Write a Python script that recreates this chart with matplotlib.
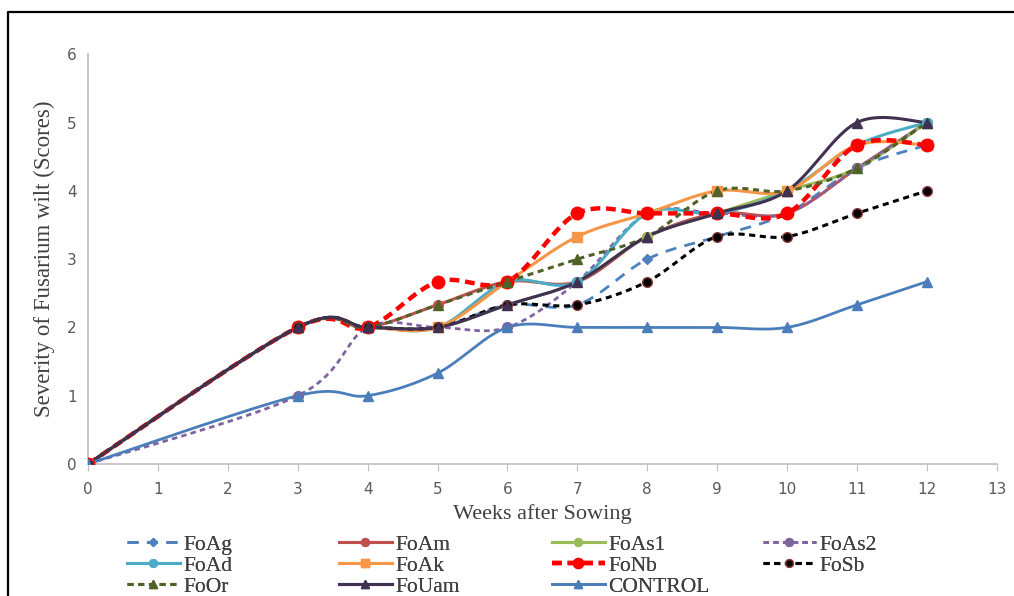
import numpy as np
import matplotlib
matplotlib.use("Agg")
import matplotlib.pyplot as plt
from matplotlib.lines import Line2D

weeks = [0, 3, 4, 5, 6, 7, 8, 9, 10, 11, 12]

FoAg = [0, 2, 2, 2, 2.33, 2.33, 3.0, 3.33, 3.67, 4.33, 4.67]
FoAm = [0, 2, 2, 2.33, 2.67, 2.67, 3.33, 3.67, 3.67, 4.33, 5]
FoAs1 = [0, 2, 2, 2, 2.33, 2.67, 3.33, 3.67, 4, 4.33, 5]
FoAs2 = [0, 1, 2, 2, 2, 2.67, 3.67, 3.67, 3.67, 4.33, 5]
FoAd = [0, 2, 2, 2, 2.67, 2.67, 3.67, 3.67, 4, 4.67, 5]
FoAk = [0, 2, 2, 2, 2.67, 3.33, 3.67, 4, 4, 4.67, 4.67]
FoNb = [0, 2, 2, 2.67, 2.67, 3.67, 3.67, 3.67, 3.67, 4.67, 4.67]
FoSb = [0, 2, 2, 2, 2.33, 2.33, 2.67, 3.33, 3.33, 3.67, 4]
FoOr = [0, 2, 2, 2.33, 2.67, 3, 3.33, 4, 4, 4.33, 5]
FoUam = [0, 2, 2, 2, 2.33, 2.67, 3.33, 3.67, 4, 5, 5]
CONTROL = [0, 1, 1, 1.33, 2, 2, 2, 2, 2, 2.33, 2.67]


def smooth(x, y, n=30):
    # bezier smoothing similar to excel "smoothed line"
    x = np.asarray(x, float)
    y = np.asarray(y, float)
    px = np.concatenate([[x[0]], x, [x[-1]]])
    py = np.concatenate([[y[0]], y, [y[-1]]])
    xs, ys = [], []
    t = np.linspace(0, 1, n)
    for i in range(len(x) - 1):
        p0 = np.array([px[i + 1], py[i + 1]])
        p3 = np.array([px[i + 2], py[i + 2]])
        p1 = p0 + (np.array([px[i + 2], py[i + 2]]) - np.array([px[i], py[i]])) / 6
        p2 = p3 - (np.array([px[i + 3], py[i + 3]]) - np.array([px[i + 1], py[i + 1]])) / 6
        b = ((1 - t) ** 3)[:, None] * p0 + (3 * (1 - t) ** 2 * t)[:, None] * p1 \
            + (3 * (1 - t) * t ** 2)[:, None] * p2 + (t ** 3)[:, None] * p3
        xs.extend(b[:, 0])
        ys.extend(b[:, 1])
    return xs, ys


series = [
    ("FoAg", FoAg, "#4F81BD", (0, (4, 3)), "D", 5, 2.0, "#4F81BD"),
    ("FoAm", FoAm, "#C0504D", "-", "o", 7, 2.2, "#C0504D"),
    ("FoAs1", FoAs1, "#9BBB59", "-", "o", 7, 2.2, "#9BBB59"),
    ("FoAs2", FoAs2, "#8064A2", (0, (2, 1.5)), "o", 7, 2.0, "#8064A2"),
    ("FoAd", FoAd, "#4BACC6", "-", "o", 7, 2.2, "#4BACC6"),
    ("FoAk", FoAk, "#F79646", "-", "s", 7, 2.2, "#F79646"),
    ("FoNb", FoNb, "#FF0000", (0, (2.2, 1.3)), "o", 9, 3.2, "#FF0000"),
    ("FoSb", FoSb, "#000000", (0, (2, 1.5)), "o", 7, 2.2, "#8B3A3A"),
    ("FoOr", FoOr, "#4F6228", (0, (2, 1.5)), "^", 7, 2.2, "#4F6228"),
    ("FoUam", FoUam, "#403152", "-", "^", 7, 2.2, "#403152"),
    ("CONTROL", CONTROL, "#4A7EBB", "-", "^", 7, 2.0, "#4A7EBB"),
]

fig = plt.figure(figsize=(10.14, 5.96), dpi=100)
ax = fig.add_axes([0.0868, 0.2215, 0.8962, 0.6875])

handles = []
for name, vals, col, ls, mk, ms, lw, mec in series:
    sx, sy = smooth(weeks, vals)
    ax.plot(sx, sy, color=col, linestyle=ls, linewidth=lw, zorder=2)
    ax.plot(weeks, vals, linestyle="none", marker=mk, markersize=ms,
            color=col, markeredgecolor=mec, zorder=3)
    h, = ax.plot([], [], color=col, linestyle=ls, linewidth=lw, marker=mk,
                 markersize=ms * 0.8, markeredgecolor=mec)
    handles.append(h)

ax.set_xlim(0, 13)
ax.set_ylim(0, 6)
ax.set_xticks(range(0, 14))
ax.set_yticks(range(0, 7))
for s in ["top", "right"]:
    ax.spines[s].set_visible(False)
for s in ["left", "bottom"]:
    ax.spines[s].set_color("#BFBFBF")
    ax.spines[s].set_linewidth(1.2)
ax.tick_params(axis="both", colors="#BFBFBF", labelcolor="#595959", labelsize=11, length=0, pad=8)
ax.tick_params(axis="x", length=5, direction="out")

ax.set_xlabel("Weeks after Sowing", family="Liberation Serif", fontsize=16, color="#404040", labelpad=5)
ax.set_ylabel("Severity of Fusarium wilt (Scores)", family="Liberation Serif", fontsize=16.5, color="#404040", labelpad=9)

# legend: one column at a time so entries read row by row like the original
col_x = [127, 339, 552, 763]
names = [s[0] for s in series]
for c in range(4):
    idx = list(range(c, len(series), 4))
    leg = fig.legend([handles[i] for i in idx], [names[i] for i in idx],
                     loc="upper left", bbox_to_anchor=(col_x[c] / 1014, 0.103),
                     frameon=False, prop={"family": "Liberation Serif", "size": 15.5},
                     handlelength=2.45, handletextpad=0.15, labelspacing=0.05,
                     numpoints=1, borderpad=0, borderaxespad=0)
    for t in leg.get_texts():
        t.set_color("#404040")
    fig.add_artist(leg)

# outer frame: only left and top edges are inside the picture
bx = 7.5 / 1014
by = 1 - 11.5 / 596
fig.add_artist(Line2D([bx, bx, 1.0], [0.0, by, by], transform=fig.transFigure,
                      color="black", linewidth=1.6))

fig.savefig("out.png", dpi=100)
